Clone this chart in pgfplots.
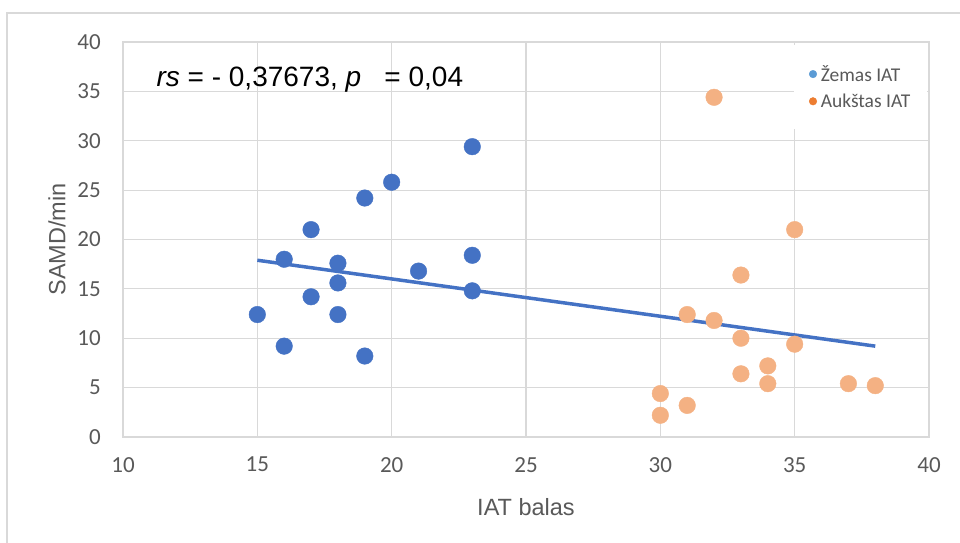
\documentclass[border=0pt]{standalone}
\usepackage{pgfplots}
\pgfplotsset{compat=1.18}
\usepackage{pgfplotstable}
\usepackage{fontspec}
\setmainfont{Liberation Sans}
\newfontfamily\calibri{Carlito}

\definecolor{gridgray}{HTML}{D9D9D9}
\definecolor{labgray}{HTML}{595959}
\definecolor{lowblue}{HTML}{4472C4}
\definecolor{highorange}{HTML}{F4B183}
\definecolor{legblue}{HTML}{5B9BD5}
\definecolor{legorange}{HTML}{ED7D31}

% IAT score vs. SAMD/min, low-IAT group
\pgfplotstableread{
x y
15 12.4
16 18.0
16 9.2
17 21.0
17 14.2
18 17.6
18 15.6
18 12.4
19 24.2
19 8.2
20 25.8
21 16.8
23 29.4
23 18.4
23 14.8
}\lowiat

% high-IAT group
\pgfplotstableread{
x y
30 4.4
30 2.2
31 12.4
31 3.2
32 34.4
32 11.8
33 16.4
33 10.0
33 6.4
34 7.2
34 5.4
35 21.0
35 9.4
37 5.4
38 5.2
}\highiat

\begin{document}
\begin{tikzpicture}[x=1bp,y=1bp]
\useasboundingbox (-123,-106) rectangle (837,437);
% chart area frame
\draw[gridgray, line width=1.2bp] (-116,-106) -- (-116,424) -- (837,424);
\begin{axis}[
  at={(0,0)}, anchor=south west,
  width=806bp, height=395bp, scale only axis,
  xmin=10, xmax=40, ymin=0, ymax=40,
  xtick={10,15,...,40}, ytick={0,5,...,40},
  grid=major,
  grid style={gridgray, line width=1.2bp},
  axis line style={gridgray, line width=1.2bp},
  tick style={draw=none},
  /pgf/number format/assume math mode=true,
  ticklabel style={font=\calibri\fontsize{23bp}{27bp}\selectfont, text=labgray, inner sep=0pt},
  xticklabel style={anchor=north, yshift=-20bp},
  yticklabel style={anchor=east, xshift=-22bp},
  every axis x label/.style={at={(axis description cs:0.5,-0.1772)}, anchor=center},
  every axis y label/.style={at={(axis description cs:-0.0819,0.5)}, rotate=90, anchor=center},
  label style={font=\fontsize{23.5bp}{28bp}\selectfont, text=labgray},
  xlabel={IAT balas},
  ylabel={SAMD/min},
  legend style={at={(axis description cs:0.8325,0.992)}, anchor=north west,
    draw=none, fill=white, font=\calibri\fontsize{19.5bp}{22bp}\selectfont,
    text=labgray, inner xsep=15bp, inner ysep=18bp, row sep=7bp, column sep=2bp,
    cells={anchor=west}},
  legend cell align=left,
]
\addplot[only marks, mark=*, color=lowblue, mark size=8.3bp,
  legend image post style={color=legblue, mark size=3.8bp}] table[x=x, y=y] {\lowiat};
\addlegendentry{Žemas IAT}
\addplot[only marks, mark=*, color=highorange, mark size=8.3bp,
  legend image post style={color=legorange, mark size=3.8bp}] table[x=x, y=y] {\highiat};
\addlegendentry{Aukštas IAT}
% linear trend over both groups
\addplot[forget plot, color=lowblue, line width=3.5bp] coordinates {(15,17.9) (38,9.2)};
\node[anchor=base west, font=\fontsize{28bp}{33bp}\selectfont, text=black]
  at (axis cs:11.12,35.54) {\textit{rs} = - 0,37673, \textit{p}\hspace{0.55em} = 0,04};
\end{axis}
\end{tikzpicture}
\end{document}
